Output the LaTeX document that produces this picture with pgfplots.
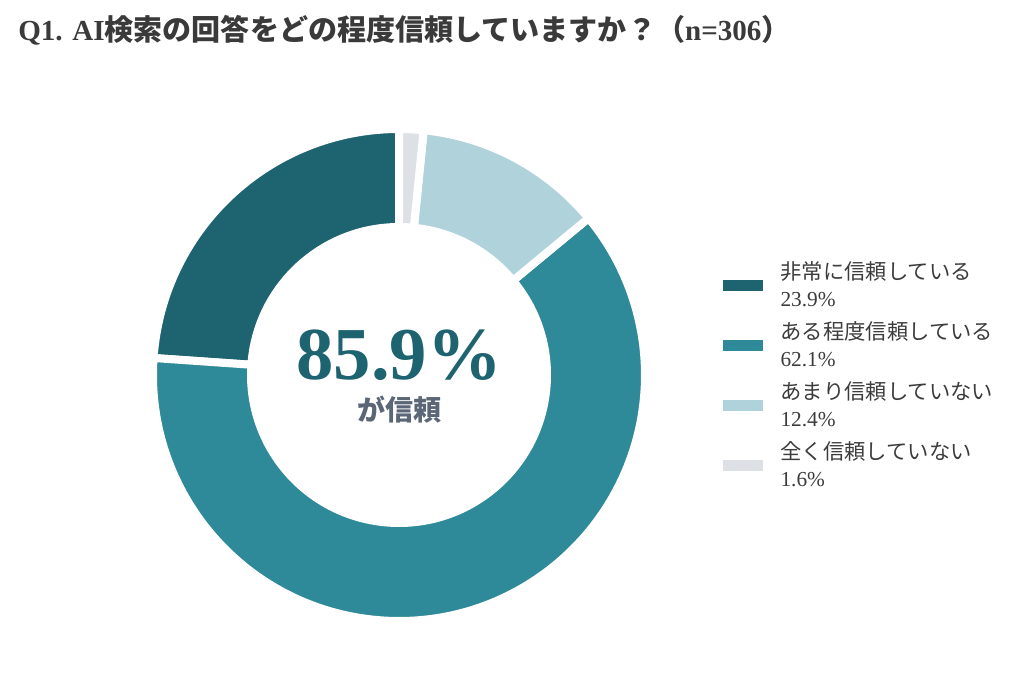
\documentclass[border=0pt]{standalone}
\usepackage{fontspec}
\setmainfont{Liberation Serif}
\newfontfamily\cjk{Noto Sans CJK JP}
\usepackage{pgfplots}
\usepackage{pgfplotstable}
\pgfplotsset{compat=1.18}

\definecolor{c1}{RGB}{30,99,112}
\definecolor{c2}{RGB}{46,137,152}
\definecolor{c3}{RGB}{176,211,219}
\definecolor{c4}{RGB}{221,225,229}
\definecolor{titlegray}{RGB}{58,58,58}
\definecolor{textgray}{RGB}{60,60,60}
\definecolor{subgray}{RGB}{91,102,118}

% share of answers (%), n=306
\pgfplotstableread{
value
23.9
62.1
12.4
1.6
}\trustdata

% annular sector, angles in degrees
\newcommand\slice[3]{%
  \filldraw[fill=#3, draw=white, line width=6pt]
    (axis cs:{cos(#1)},{sin(#1)}) arc[start angle=#1, end angle=#2, radius=184.5pt]
    -- (axis cs:{0.6016*cos(#2)},{0.6016*sin(#2)}) arc[start angle=#2, end angle=#1, radius=111pt]
    -- cycle;}

\begin{document}
\begin{tikzpicture}[x=0.75pt, y=0.75pt]
\pgfplotstablegetelem{0}{value}\of\trustdata \let\vA\pgfplotsretval
\pgfplotstablegetelem{1}{value}\of\trustdata \let\vB\pgfplotsretval
\pgfplotstablegetelem{2}{value}\of\trustdata \let\vC\pgfplotsretval
\pgfplotstablegetelem{3}{value}\of\trustdata \let\vD\pgfplotsretval
\pgfmathsetmacro\aA{90}
\pgfmathsetmacro\aB{\aA+3.6*\vA}
\pgfmathsetmacro\aC{\aB+3.6*\vB}
\pgfmathsetmacro\aD{\aC+3.6*\vC}
\pgfmathsetmacro\aE{\aD+3.6*\vD}
\path[use as bounding box] (0,0) rectangle (1024,691);

\node[anchor=west, inner sep=0pt, text=titlegray,
      font=\cjk\bfseries\fontsize{21.8pt}{21.8pt}\selectfont] at (18,661)
  {{\rmfamily\bfseries Q1. AI}検索の回答をどの程度信頼していますか？（{\rmfamily\bfseries n=306}）};

\begin{axis}[
    at={(299.25pt,237pt)}, anchor=center,
    x=184.5pt, y=184.5pt,
    xmin=-1, xmax=1, ymin=-1, ymax=1,
    hide axis, clip=false,
    legend image code/.code={\fill[#1] (0pt,-3.75pt) rectangle (29.25pt,3.75pt);},
    legend style={
        at={(1.1585,0.5)}, anchor=west,
        draw=none, fill=none, inner sep=0pt,
        font=\fontsize{16pt}{20.5pt}\selectfont,
        text=textgray,
        cells={anchor=west, align=left, inner xsep=0pt, inner ysep=1pt},
        row sep=5.5pt,
        /tikz/every odd column/.append style={column sep=11.3pt}
    },
]
\slice{\aA}{\aB}{c1}
\slice{\aB}{\aC}{c2}
\slice{\aC}{\aD}{c3}
\slice{\aD}{\aE}{c4}

\node[text=c1, font=\bfseries\fontsize{56pt}{56pt}\selectfont] at (axis cs:0,0.081) {85.9\%};
\node[text=subgray, font=\cjk\bfseries\fontsize{21pt}{21pt}\selectfont] at (axis cs:0,-0.142) {が信頼};

\addlegendimage{c1}
\addlegendentry{{\cjk 非常に信頼している}\\23.9\%}
\addlegendimage{c2}
\addlegendentry{{\cjk ある程度信頼している}\\62.1\%}
\addlegendimage{c3}
\addlegendentry{{\cjk あまり信頼していない}\\12.4\%}
\addlegendimage{c4}
\addlegendentry{{\cjk 全く信頼していない}\\1.6\%}
\end{axis}
\end{tikzpicture}
\end{document}
